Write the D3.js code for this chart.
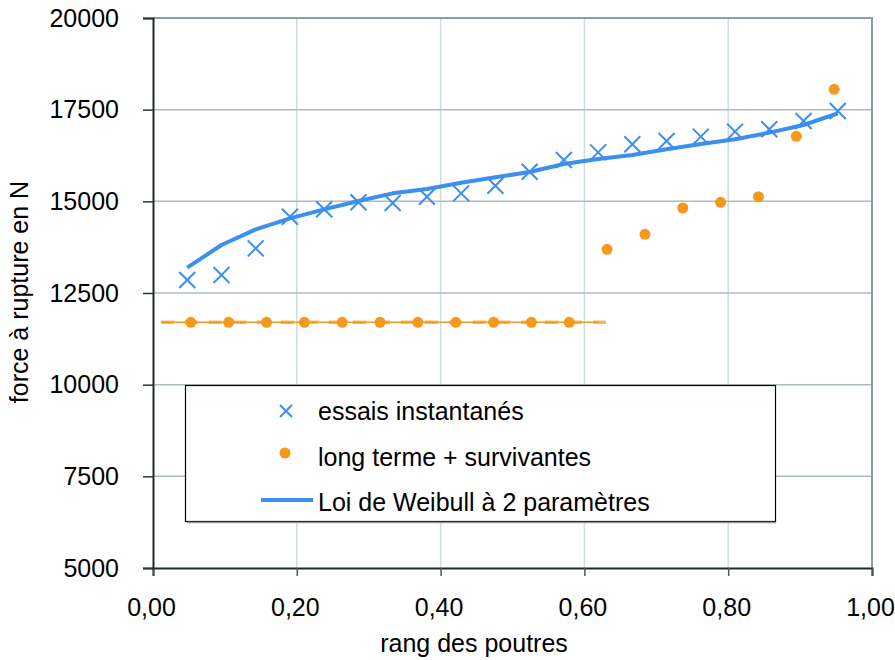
<!DOCTYPE html>
<html><head><meta charset="utf-8">
<script src="https://cdn.jsdelivr.net/npm/d3@7"></script>
<style>body{margin:0;background:#fff}svg{display:block}text{font-family:"Liberation Sans",Arial,sans-serif;fill:#000}</style>
</head><body><svg id="c" width="895" height="660"></svg>
<script>
// Data
const nInst = 20;
const instRank = d3.range(1, nInst + 1).map(i => i / (nInst + 1));
const instValues = [12855, 12990, 13718, 14581, 14782, 14973, 14955, 15127, 15218, 15427,
                    15809, 16127, 16336, 16555, 16645, 16764, 16900, 16964, 17191, 17464];
const weibullValues = [13190, 13809, 14236, 14536, 14780, 15009, 15218, 15336, 15509, 15655,
                       15800, 16018, 16155, 16264, 16418, 16564, 16691, 16873, 17082, 17400];
const nLong = 18;
const longRank = d3.range(1, nLong + 1).map(i => i / (nLong + 1));
const longValues = [11700, 11700, 11700, 11700, 11700, 11700, 11700, 11700, 11700, 11700, 11700,
                    13691, 14100, 14818, 14973, 15127, 16773, 18055];
const survRankRange = [0.011, 0.637];
const survValue = 11700;
const xTicks = [0, 0.2, 0.4, 0.6, 0.8, 1.0];
const yTicks = [5000, 7500, 10000, 12500, 15000, 17500, 20000];
const legendLabels = ["essais instantanés", "long terme + survivantes", "Loi de Weibull à 2 paramètres"];

const svg = d3.select("#c");
const L = 153, R = 872, T = 18, B = 568;
const FS = 25;
const x = d3.scaleLinear().domain([0, 1]).range([L, R]);
const y = d3.scaleLinear().domain([5000, 20000]).range([B, T]);
const blue = "#3a8fef", orange = "#f5991c";

// gridlines
svg.append("g").selectAll("line").data(xTicks.slice(1, -1)).join("line")
  .attr("x1", d => x(d)).attr("x2", d => x(d)).attr("y1", T).attr("y2", B)
  .attr("stroke", "#cddce3").attr("stroke-width", 1.5);
svg.append("g").selectAll("line").data(yTicks.slice(1, -1)).join("line")
  .attr("x1", L).attr("x2", R).attr("y1", d => y(d)).attr("y2", d => y(d))
  .attr("stroke", "#aebcc0").attr("stroke-width", 1.5);
// plot border top/right
svg.append("path").attr("d", `M${L},${T}H${R}V${B}`).attr("fill", "none")
  .attr("stroke", "#8c9fa4").attr("stroke-width", 2);

// axes
const fmt = d3.format(".2f");
const xAxis = d3.axisBottom(x).tickValues(xTicks).tickSize(8).tickPadding(22)
  .tickFormat(d => fmt(d).replace(".", ","));
const gx = svg.append("g").attr("transform", `translate(0,${B})`).call(xAxis);
gx.select(".domain").attr("stroke", "#1e2b2d").attr("stroke-width", 2);
gx.selectAll(".tick line").attr("stroke", "#555").attr("stroke-width", 1.5);
gx.selectAll("text").attr("font-size", FS).attr("font-family", "Liberation Sans, Arial, sans-serif").attr("fill", "#000")
  .attr("dx", -2);

const yAxis = d3.axisLeft(y).tickValues(yTicks).tickSize(10).tickPadding(24).tickFormat(d => d);
const gy = svg.append("g").attr("transform", `translate(${L},0)`).call(yAxis);
gy.select(".domain").attr("stroke", "#1e2b2d").attr("stroke-width", 2);
gy.selectAll(".tick line").attr("stroke", "#333").attr("stroke-width", 1.5);
gy.selectAll("text").attr("font-size", FS).attr("font-family", "Liberation Sans, Arial, sans-serif").attr("fill", "#000");

// axis titles
svg.append("text").attr("x", 474).attr("y", 652).attr("text-anchor", "middle")
  .attr("font-size", FS).text("rang des poutres");
svg.append("text").attr("transform", `translate(28,292) rotate(-90)`)
  .attr("text-anchor", "middle").attr("font-size", FS).text("force à rupture en N");

// survivors dashed line
svg.append("line").attr("x1", x(survRankRange[0])).attr("x2", x(survRankRange[1]))
  .attr("y1", y(survValue)).attr("y2", y(survValue))
  .attr("stroke", "#f8b966").attr("stroke-width", 3.5).attr("stroke-dasharray", "13,11");
svg.append("line").attr("x1", x(survRankRange[0])).attr("x2", x(survRankRange[1]) - 12)
  .attr("y1", y(survValue)).attr("y2", y(survValue))
  .attr("stroke", orange).attr("stroke-width", 1.5);

// weibull line
svg.append("path").datum(instRank.map((r, i) => [r, weibullValues[i]]))
  .attr("d", d3.line().x(d => x(d[0])).y(d => y(d[1])))
  .attr("fill", "none").attr("stroke", blue).attr("stroke-width", 4).attr("stroke-linejoin", "round");

// crosses
const cs = 8;
svg.append("g").selectAll("path").data(instRank.map((r, i) => [r, instValues[i]])).join("path")
  .attr("d", d => { const cx = x(d[0]), cy = y(d[1]);
    return `M${cx - cs},${cy - cs}L${cx + cs},${cy + cs}M${cx - cs},${cy + cs}L${cx + cs},${cy - cs}`; })
  .attr("stroke", blue).attr("stroke-width", 2).attr("fill", "none");

// long-term dots
svg.append("g").selectAll("circle").data(longRank.map((r, i) => [r, longValues[i]])).join("circle")
  .attr("cx", d => x(d[0])).attr("cy", d => y(d[1])).attr("r", 5.5).attr("fill", orange);

// legend
const lg = svg.append("g");
lg.append("rect").attr("x", 185.5).attr("y", 385.5).attr("width", 590).attr("height", 136)
  .attr("fill", "#fff").attr("stroke", "#000").attr("stroke-width", 1.2);
lg.append("line").attr("x1", 187).attr("x2", 776).attr("y1", 522.5).attr("y2", 522.5).attr("stroke", "#999").attr("stroke-width", 1.5);
const ly = [411, 457, 502];
lg.append("path").attr("d", `M${286 - 6},${ly[0] - 6}L${286 + 6},${ly[0] + 6}M${286 - 6},${ly[0] + 6}L${286 + 6},${ly[0] - 6}`)
  .attr("stroke", blue).attr("stroke-width", 2);
lg.append("circle").attr("cx", 285).attr("cy", ly[1] - 4).attr("r", 5.5).attr("fill", orange);
lg.append("line").attr("x1", 261).attr("x2", 313).attr("y1", ly[2] - 2).attr("y2", ly[2] - 2)
  .attr("stroke", blue).attr("stroke-width", 4);
lg.selectAll("text.l").data(legendLabels).join("text").attr("class", "l")
  .attr("x", 318).attr("y", (d, i) => ly[i] + 9).attr("font-size", FS).text(d => d);
</script></body></html>
